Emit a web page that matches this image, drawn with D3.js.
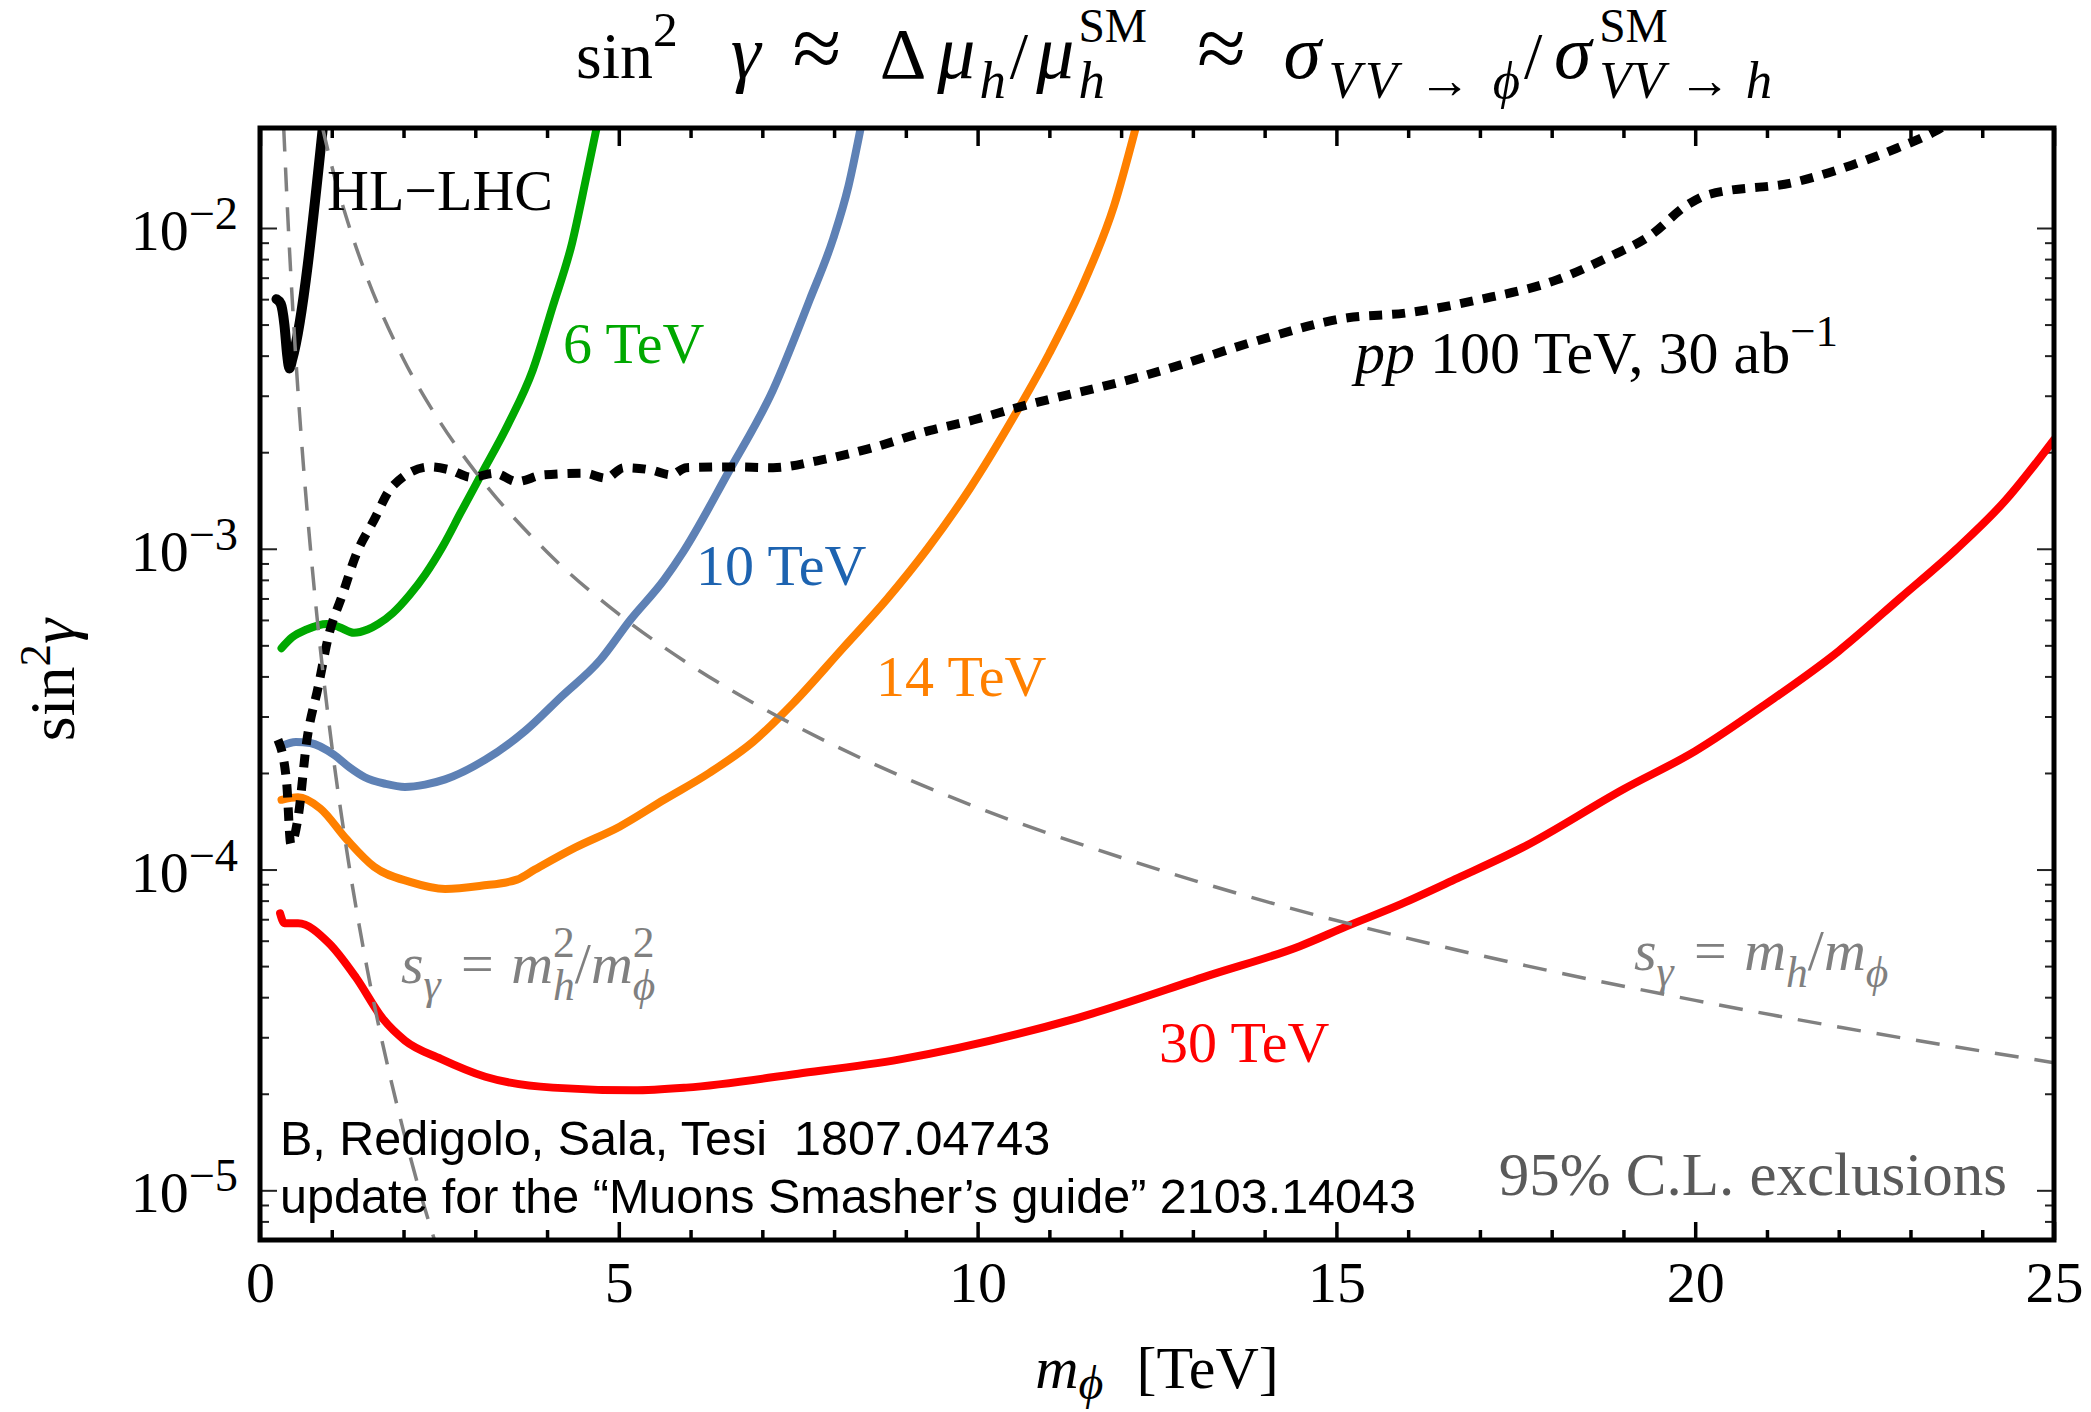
<!DOCTYPE html>
<html>
<head>
<meta charset="utf-8">
<script src="https://cdn.jsdelivr.net/npm/d3@7"></script>
<style>
  body { margin: 0; background: #fff; }
  text { white-space: pre; }
</style>
</head>
<body>
<div id="container"></div>
<script>
// Curves: [m_phi (TeV), sin^2 gamma]
const hlLHC = [[0.23, 6.0e-3], [0.29, 5.8e-3], [0.34, 5.0e-3], [0.38, 4.0e-3], [0.41, 3.65e-3], [0.45, 3.9e-3], [0.88, 2.1e-2]];

const muon6 = [[0.30, 4.9e-4], [0.45, 5.3e-4], [0.65, 5.6e-4], [0.93, 5.83e-4], [1.1, 5.7e-4], [1.31, 5.47e-4], [1.5, 5.6e-4],
  [1.65, 5.83e-4], [1.85, 6.3e-4], [2.09, 7.2e-4], [2.3, 8.3e-4], [2.55, 1.02e-3], [2.8, 1.3e-3], [3.08, 1.70e-3],
  [3.46, 2.45e-3], [3.8, 3.6e-3], [4.08, 5.7e-3], [4.35, 9.0e-3], [4.55, 1.45e-2], [4.70, 2.1e-2]];

const muon10 = [[0.30, 2.43e-4], [0.5, 2.5e-4], [0.7, 2.48e-4], [1.03, 2.28e-4], [1.25, 2.08e-4], [1.46, 1.94e-4], [1.75, 1.85e-4],
  [2.02, 1.81e-4], [2.3, 1.84e-4], [2.58, 1.91e-4], [3.14, 2.2e-4], [3.7, 2.71e-4], [4.2, 3.46e-4], [4.74, 4.5e-4],
  [5.16, 6.0e-4], [5.63, 8.0e-4], [5.9, 9.8e-4], [6.52, 1.72e-3], [7.15, 3.13e-3], [7.66, 5.97e-3], [7.99, 9.3e-3],
  [8.2, 1.35e-2], [8.38, 2.1e-2]];

const muon14 = [[0.30, 1.65e-4], [0.53, 1.68e-4], [0.84, 1.55e-4], [1.21, 1.24e-4], [1.59, 1.02e-4], [2.09, 9.15e-5],
  [2.58, 8.7e-5], [3.08, 8.9e-5], [3.58, 9.3e-5], [3.83, 1.0e-4], [4.39, 1.17e-4], [5.01, 1.36e-4], [5.63, 1.65e-4],
  [6.26, 2.0e-4], [6.87, 2.5e-4], [7.43, 3.3e-4], [8.13, 4.92e-4], [8.74, 6.98e-4], [9.3, 1.0e-3], [9.9, 1.55e-3],
  [10.5, 2.57e-3], [11.0, 4.07e-3], [11.5, 6.9e-3], [11.9, 1.17e-2], [12.2, 2.04e-2]];

const muon30 = [[0.28, 7.3e-5], [0.34, 6.8e-5], [0.53, 6.8e-5], [0.96, 5.9e-5], [1.34, 4.6e-5], [1.71, 3.43e-5],
  [2.02, 2.93e-5], [2.52, 2.57e-5], [3.14, 2.26e-5], [4.08, 2.09e-5], [5.2, 2.05e-5], [5.94, 2.09e-5], [7.5, 2.31e-5],
  [8.92, 2.56e-5], [11.4, 3.45e-5], [13.27, 4.71e-5], [14.49, 5.77e-5], [15.14, 6.65e-5], [15.9, 7.8e-5],
  [16.69, 9.4e-5], [17.59, 1.17e-4], [19, 1.78e-4], [20, 2.34e-4], [21, 3.3e-4], [22, 4.8e-4], [22.86, 7.03e-4],
  [23.63, 9.93e-4], [24.33, 1.42e-3], [25, 2.19e-3]];

const pp100 = [[0.25, 2.54e-4], [0.37, 1.88e-4], [0.43, 1.2e-4], [0.53, 1.45e-4], [0.65, 2.5e-4], [0.81, 3.7e-4],
  [0.96, 5.4e-4], [1.15, 7.2e-4], [1.34, 9.6e-4], [1.59, 1.23e-3], [1.84, 1.56e-3], [2.37, 1.8e-3], [2.65, 1.76e-3],
  [2.95, 1.67e-3], [3.27, 1.72e-3], [3.58, 1.62e-3], [3.95, 1.70e-3], [4.52, 1.72e-3], [4.82, 1.66e-3], [5.07, 1.79e-3],
  [5.45, 1.76e-3], [5.73, 1.70e-3], [5.94, 1.79e-3], [6.56, 1.8e-3], [7.15, 1.79e-3], [7.81, 1.89e-3], [8.45, 2.04e-3],
  [9.34, 2.34e-3], [9.94, 2.52e-3], [10.54, 2.75e-3], [12.35, 3.48e-3], [12.82, 3.74e-3], [13.85, 4.42e-3],
  [15.16, 5.25e-3], [15.96, 5.43e-3], [16.97, 5.97e-3], [18.07, 6.89e-3], [18.77, 8.07e-3], [19.38, 9.5e-3],
  [19.89, 1.18e-2], [20.18, 1.27e-2], [21.39, 1.39e-2], [22.18, 1.57e-2], [22.8, 1.77e-2], [23.34, 2.0e-2], [23.5, 2.1e-2]];

// reference lines s_gamma = m_h/m_phi and s_gamma = m_h^2/m_phi^2
const sLinear = [[0.87, 2.06e-2], [1, 1.56e-2], [1.25, 1.0e-2], [1.5, 6.94e-3], [2, 3.9e-3], [2.5, 2.5e-3], [3, 1.74e-3],
  [4, 9.77e-4], [5, 6.25e-4], [6, 4.34e-4], [7, 3.19e-4], [8, 2.44e-4], [10, 1.56e-4], [12, 1.09e-4], [14, 7.97e-5],
  [16, 6.1e-5], [18, 4.82e-5], [20, 3.91e-5], [22, 3.23e-5], [25, 2.5e-5]];
const sQuad = [[0.33, 2.06e-2], [0.4, 9.54e-3], [0.5, 3.9e-3], [0.6, 1.88e-3], [0.7, 1.02e-3], [0.8, 5.96e-4],
  [1.0, 2.44e-4], [1.2, 1.18e-4], [1.5, 4.82e-5], [1.8, 2.33e-5], [2.0, 1.53e-5], [2.2, 1.04e-5], [2.45, 6.8e-6]];

const xMajor = [0, 5, 10, 15, 20, 25];
const yDecades = [-2, -3, -4, -5];

// layout
const W = 2091, H = 1412;
const pLeft = 260, pRight = 2054, pTop = 128, pBottom = 1240;
const serif = "'Liberation Serif', 'Times New Roman', serif";
const sans = "'Liberation Sans', Arial, sans-serif";

const x = d3.scaleLinear().domain([0, 25]).range([pLeft, pRight]);
const y = d3.scaleLog().domain([7e-6, 2.05e-2]).range([pBottom, pTop]);

const svg = d3.create("svg").attr("width", W).attr("height", H)
  .style("font-family", serif);
document.getElementById("container").append(svg.node());
svg.append("rect").attr("width", W).attr("height", H).attr("fill", "#fff");

svg.append("clipPath").attr("id", "plot").append("rect")
  .attr("x", pLeft).attr("y", pTop).attr("width", pRight - pLeft).attr("height", pBottom - pTop);

// text with sub/superscripts; parts are placed one after another
// w = minimum box width (em, glyph centred), L = forced text length (em, spacing stretched)
function richText(parent, px, py, size, parts, opts) {
  const g = parent.append("g")
    .attr("transform", `translate(${px},${py})` + (opts.rotate ? ` rotate(${opts.rotate})` : ""));
  const inner = g.append("g");
  let cx = 0, stack = null;
  parts.forEach(p => {
    const t = inner.append("text")
      .attr("y", -(p.up || 0) * size)
      .attr("font-size", size * (p.s || 1))
      .attr("font-style", p.i ? "italic" : "normal")
      .attr("font-family", opts.family || serif)
      .attr("fill", opts.fill || "#000")
      .text(p.t);
    if (p.L) t.attr("textLength", p.L * size).attr("lengthAdjust", "spacing");
    const sx = stack ? stack.x : cx;
    let w = p.L ? p.L * size : t.node().getComputedTextLength();
    let off = 0;
    if (p.w && p.w * size > w) { off = (p.w * size - w) / 2; w = p.w * size; }
    t.attr("x", sx + off);
    if (stack) { cx = stack.x + Math.max(w, stack.w) + (p.dx || 0) * size; stack = null; }
    else if (p.st) { stack = { x: cx, w: w }; }
    else cx += w + (p.dx || 0) * size;
  });
  const shift = opts.anchor === "middle" ? -cx / 2 : opts.anchor === "end" ? -cx : 0;
  inner.attr("transform", `translate(${shift},0)`);
  return g;
}

// axes: ticks on all four sides, pointing inwards
const xMinor = d3.range(0, 26).filter(v => v % 5 !== 0);
const yMaj = yDecades.map(d => Math.pow(10, d));
const yMin = [];
[-6, -5, -4, -3, -2].forEach(d => d3.range(2, 10).forEach(k => {
  const v = k * Math.pow(10, d);
  if (v > 7.05e-6 && v < 2.0e-2) yMin.push(v);
}));

function styleAxis(g, width, col) {
  g.select(".domain").remove();
  g.selectAll("line").attr("stroke", col).attr("stroke-width", width);
}

svg.append("g").attr("transform", `translate(0,${pBottom})`)
  .call(d3.axisBottom(x).tickValues(xMajor).tickSize(-18).tickPadding(21).tickFormat(d3.format("d")))
  .call(g => styleAxis(g, 3.5, "#000"))
  .call(g => g.selectAll("text").attr("font-size", 58).attr("font-family", serif).attr("fill", "#000"));
svg.append("g").attr("transform", `translate(0,${pBottom})`)
  .call(d3.axisBottom(x).tickValues(xMinor).tickSize(-10).tickFormat(""))
  .call(g => styleAxis(g, 3.5, "#000"));
svg.append("g").attr("transform", `translate(0,${pTop})`)
  .call(d3.axisTop(x).tickValues(xMajor).tickSize(-18).tickFormat(""))
  .call(g => styleAxis(g, 3.5, "#000"));
svg.append("g").attr("transform", `translate(0,${pTop})`)
  .call(d3.axisTop(x).tickValues(xMinor).tickSize(-10).tickFormat(""))
  .call(g => styleAxis(g, 3.5, "#000"));

svg.append("g").attr("transform", `translate(${pLeft},0)`)
  .call(d3.axisLeft(y).tickValues(yMaj).tickSize(-17).tickFormat(""))
  .call(g => styleAxis(g, 2, "#222"));
svg.append("g").attr("transform", `translate(${pLeft},0)`)
  .call(d3.axisLeft(y).tickValues(yMin).tickSize(-9).tickFormat(""))
  .call(g => styleAxis(g, 2, "#222"));
svg.append("g").attr("transform", `translate(${pRight},0)`)
  .call(d3.axisRight(y).tickValues(yMaj).tickSize(-17).tickFormat(""))
  .call(g => styleAxis(g, 2, "#222"));
svg.append("g").attr("transform", `translate(${pRight},0)`)
  .call(d3.axisRight(y).tickValues(yMin).tickSize(-9).tickFormat(""))
  .call(g => styleAxis(g, 2, "#222"));

// y tick labels 10^n
yDecades.forEach(d => {
  richText(svg, 238, y(Math.pow(10, d)) + 22, 58,
    [{ t: "10" }, { t: "\u2212" + (-d), s: 0.8, up: 0.36 }], { anchor: "end" });
});

// curves
const line = d3.line().x(d => x(d[0])).y(d => y(d[1])).curve(d3.curveMonotoneX);
const plot = svg.append("g").attr("clip-path", "url(#plot)");

const curves = [
  { data: muon30, color: "#ff0000", width: 8 },
  { data: muon14, color: "#ff8000", width: 8 },
  { data: muon10, color: "#5e81b5", width: 8 },
  { data: muon6, color: "#00a800", width: 8 },
  { data: hlLHC, color: "#000", width: 10 },
  { data: pp100, color: "#000", width: 9, dash: "13,10" }
];
curves.forEach(c => {
  plot.append("path").datum(c.data)
    .attr("d", line)
    .attr("fill", "none")
    .attr("stroke", c.color)
    .attr("stroke-width", c.width)
    .attr("stroke-linejoin", "round")
    .attr("stroke-linecap", c.dash ? "butt" : "round")
    .attr("stroke-dasharray", c.dash || null);
});

[sLinear, sQuad].forEach(s => {
  plot.append("path").datum(s)
    .attr("d", line)
    .attr("fill", "none")
    .attr("stroke", "#808080")
    .attr("stroke-width", 3.5)
    .attr("stroke-dasharray", "24,16");
});

// frame
svg.append("rect")
  .attr("x", pLeft).attr("y", pTop).attr("width", pRight - pLeft).attr("height", pBottom - pTop)
  .attr("fill", "none").attr("stroke", "#000").attr("stroke-width", 5);

// curve labels
svg.append("text").attr("x", 327).attr("y", 210).attr("font-size", 58).attr("fill", "#000").text("HL\u2212LHC");
svg.append("text").attr("x", 563).attr("y", 363).attr("font-size", 58).attr("fill", "#00a800").text("6 TeV");
svg.append("text").attr("x", 696).attr("y", 585).attr("font-size", 58).attr("fill", "#1d63b0").text("10 TeV");
svg.append("text").attr("x", 876).attr("y", 696).attr("font-size", 58).attr("fill", "#ff8000").text("14 TeV");
svg.append("text").attr("x", 1159).attr("y", 1062).attr("font-size", 58).attr("fill", "#ff0000").text("30 TeV");

richText(svg, 1355, 373, 60, [
  { t: "pp", i: 1, dx: 0.25 }, { t: "100 TeV, 30 ab" }, { t: "\u22121", s: 0.75, up: 0.45 }
], {});

richText(svg, 401, 983, 58, [
  { t: "s", i: 1 }, { t: "\u03b3", i: 1, s: 0.75, up: -0.28, dx: 0.35 }, { t: "=", dx: 0.3 },
  { t: "m", i: 1 }, { t: "2", s: 0.75, up: 0.45, st: 1 }, { t: "h", i: 1, s: 0.75, up: -0.3 },
  { t: "/" }, { t: "m", i: 1 }, { t: "2", s: 0.75, up: 0.45, st: 1 }, { t: "\u03d5", i: 1, s: 0.75, up: -0.3 }
], { fill: "#808080" });

richText(svg, 1634, 970, 58, [
  { t: "s", i: 1 }, { t: "\u03b3", i: 1, s: 0.75, up: -0.28, dx: 0.35 }, { t: "=", dx: 0.3 },
  { t: "m", i: 1 }, { t: "h", i: 1, s: 0.75, up: -0.3 }, { t: "/" }, { t: "m", i: 1 },
  { t: "\u03d5", i: 1, s: 0.75, up: -0.3 }
], { fill: "#808080" });

svg.append("text").attr("x", 280).attr("y", 1155).attr("font-size", 48.5).attr("font-family", sans)
  .attr("fill", "#000").text("B, Redigolo, Sala, Tesi  1807.04743");
svg.append("text").attr("x", 280).attr("y", 1213).attr("font-size", 48.5).attr("font-family", sans)
  .attr("fill", "#000").text("update for the \u201cMuons Smasher\u2019s guide\u201d 2103.14043");
svg.append("text").attr("x", 2007).attr("y", 1195).attr("font-size", 61).attr("text-anchor", "end")
  .attr("fill", "#5a5a5a").text("95% C.L. exclusions");

// title (Greek glyphs set a little larger, as in the original typesetting)
richText(svg, 576, 78, 66, [
  { t: "sin" }, { t: "2", s: 0.75, up: 0.48, dx: 0.6 }, { t: "\u03b3", i: 1, s: 1.15, w: 0.86, dx: 0.1 },
  { t: "\u2248", s: 1.35, w: 1.1, dx: 0.3 },
  { t: "\u0394", s: 1.1, w: 0.91 }, { t: "\u03bc", i: 1, s: 1.15, w: 0.7 }, { t: "h", i: 1, s: 0.8, up: -0.3 }, { t: "/", w: 0.4 },
  { t: "\u03bc", i: 1, s: 1.15, w: 0.7 }, { t: "SM", s: 0.72, up: 0.55, st: 1 }, { t: "h", i: 1, s: 0.8, up: -0.3, dx: 0.7 },
  { t: "\u2248", s: 1.35, w: 0.85, dx: 0.4 },
  { t: "\u03c3", i: 1, s: 1.15, w: 0.8 }, { t: "VV \u2192 \u03d5", i: 1, s: 0.8, up: -0.3, L: 2.9 }, { t: "/", w: 0.4 },
  { t: "\u03c3", i: 1, s: 1.15, w: 0.8 }, { t: "SM", s: 0.72, up: 0.55, st: 1 }, { t: "VV \u2192 h", i: 1, s: 0.8, up: -0.3, L: 2.62 }
], {});

// axis titles
richText(svg, 1157, 1388, 60, [
  { t: "m", i: 1 }, { t: "\u03d5", i: 1, s: 0.8, up: -0.18, dx: 0.55 }, { t: "[TeV]" }
], { anchor: "middle" });

richText(svg, 74, 680, 64, [
  { t: "sin" }, { t: "2", s: 0.7, up: 0.38 }, { t: "\u03b3", i: 1 }
], { anchor: "middle", rotate: -90 });
</script>
</body>
</html>
